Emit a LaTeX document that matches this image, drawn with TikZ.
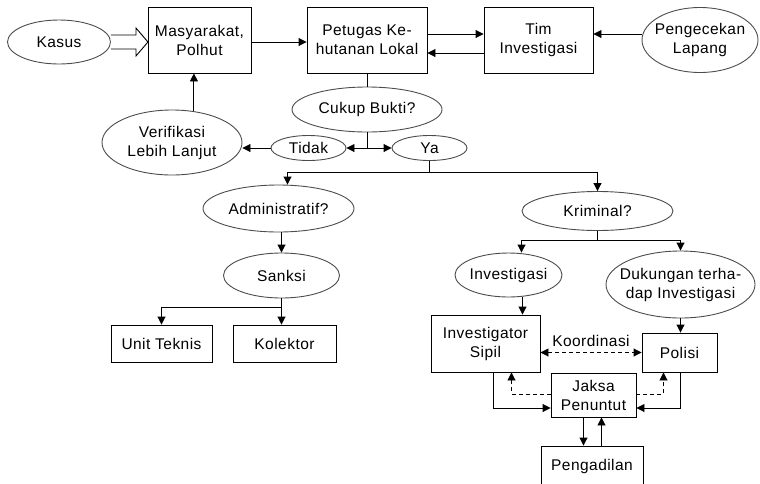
\documentclass[tikz,border=0pt]{standalone}
\usepackage{fontspec}
\setmainfont[LetterSpace=3]{Liberation Sans}
\usetikzlibrary{arrows.meta,positioning,calc,shapes.geometric}
\newcommand{\flowfont}{\fontsize{15.5}{19}\selectfont}
\tikzset{
  box/.style={draw, line width=0.9pt, align=center, inner sep=0pt, font=\flowfont},
  oval/.style={ellipse, draw=black!70, line width=0.9pt, align=center,
               inner xsep=-25pt, inner ysep=0pt, font=\flowfont},
  link/.style={line width=0.9pt},
  arrow/.style={link, -{Triangle[length=8pt,width=8pt]}},
  dasharrow/.style={arrow, dash pattern=on 4pt off 3pt},
  twoway/.style={{Triangle[length=8pt,width=8pt]}-{Triangle[length=8pt,width=8pt]}}
}

\begin{document}
\begin{tikzpicture}[x=1pt, y=-1pt]
\useasboundingbox (0,0) rectangle (760,483);

% top row
\node[oval, minimum width=103pt, minimum height=44pt] (kasus) at (59,42) {Kasus};
\node[box, minimum width=103pt, minimum height=66pt] (masy) at (199.5,40) {Masyarakat,\\Polhut};
\node[box, minimum width=120pt, minimum height=66pt] (petugas) at (367,40) {Petugas Ke-\\hutanan Lokal};
\node[box, minimum width=109pt, minimum height=66pt] (tim) at (538.5,40) {Tim\\Investigasi};
\node[oval, minimum width=116pt, minimum height=65pt] (cek) at (700,40) {Pengecekan\\Lapang};

% decision
\node[oval, minimum width=150pt, minimum height=45pt] (cukup) at (367,109.5) {Cukup Bukti?};
\node[oval, minimum width=75pt, minimum height=25pt] (tidak) at (308.5,148) {Tidak};
\node[oval, minimum width=75pt, minimum height=25pt] (ya) at (429.5,148) {Ya};
\node[oval, minimum width=140pt, minimum height=65pt] (verif) at (172,142.5) {Verifikasi\\Lebih Lanjut};

% administrative branch
\node[oval, minimum width=151pt, minimum height=47pt] (admin) at (278.5,208.5) {Administratif?};
\node[oval, minimum width=116pt, minimum height=45pt] (sanksi) at (281.5,275.5) {Sanksi};
\node[box, minimum width=101pt, minimum height=37pt] (unit) at (161.5,343.5) {Unit Teknis};
\node[box, minimum width=103pt, minimum height=37pt] (kolektor) at (284.5,343.5) {Kolektor};

% criminal branch
\node[oval, minimum width=151pt, minimum height=39pt] (krim) at (597.5,211) {Kriminal?};
\node[oval, minimum width=107pt, minimum height=44pt] (invest) at (508.5,275) {Investigasi};
\node[oval, minimum width=149pt, minimum height=67pt] (dukung) at (680.5,284.5) {Dukungan terha-\\dap Investigasi};
\node[box, minimum width=109pt, minimum height=57pt] (sipil) at (485.5,343.5) {Investigator\\Sipil};
\node[box, minimum width=75pt, minimum height=39pt] (polisi) at (679.5,352.5) {Polisi};
\node[box, minimum width=85pt, minimum height=44pt] (jaksa) at (593.5,395) {Jaksa\\Penuntut};
\node[box, minimum width=102pt, minimum height=40pt] (pengadilan) at (592,466) {Pengadilan};

% hollow arrow into the first box
\draw[link, fill=white] (kasus.east) ++(0,-7) -- ++(25,0) -- ++(0,-7) -- ++(12,14)
  -- ++(-12,14) -- ++(0,-7) -- ++(-25,0);

\draw[arrow] ([yshift=-2pt]masy.east) -- ([yshift=-2pt]petugas.west);
\draw[arrow] ([yshift=6pt]petugas.east) -- ([yshift=6pt]tim.west);
\draw[arrow] ([yshift=-13pt]tim.west) -- ([yshift=-13pt]petugas.east);
\draw[arrow] ([yshift=6pt]cek.west) -- ([yshift=6pt]tim.east);

\draw[link] (petugas.south) -- (cukup.north);
\draw[arrow] (cukup.south) |- (tidak.east);
\draw[arrow] (cukup.south) |- (ya.west);
\draw[arrow] (tidak.west) -- (tidak.west -| verif.east);
\draw[arrow] (verif.55) -- (verif.55 |- masy.south);

\coordinate (yasplit) at (429.5,172);
\draw[link] (ya.south) -- (yasplit);
\draw[arrow] (yasplit) -| ([xshift=9pt]admin.north);
\draw[arrow] (yasplit) -| (krim.north);

\draw[arrow] (admin.south -| sanksi.north) -- (sanksi.north);
\coordinate (sanksplit) at (281.5,307);
\draw[link] (sanksi.south) -- (sanksplit);
\draw[arrow] (sanksplit) -| (unit.north);
\draw[arrow] (sanksplit) -- (sanksplit |- kolektor.north);

\coordinate (krimsplit) at (597.5,240);
\draw[link] (krim.south) -- (krimsplit);
\draw[arrow] (krimsplit) -| ([xshift=13pt]invest.north);
\draw[arrow] (krimsplit) -| (dukung.north);
\draw[arrow] ([xshift=14pt]invest.south) -- ([xshift=14pt]invest.south |- sipil.north);
\draw[arrow] (dukung.south) -- (dukung.south |- polisi.north);

% coordination around the prosecutor
\draw[dasharrow, twoway] (polisi.west -| sipil.east)
  -- node[above=2pt, font=\flowfont] {Koordinasi} (polisi.west);
\draw[arrow] ([xshift=8pt]sipil.south) |- ([yshift=-13pt]jaksa.west);
\draw[arrow] ([xshift=1pt]polisi.south) |- ([yshift=-13pt]jaksa.east);
\draw[dasharrow] ([yshift=1pt]jaksa.west) -| ([xshift=26pt]sipil.south);
\draw[dasharrow] ([yshift=1pt]jaksa.east) -| ([xshift=-16pt]polisi.south);
\draw[arrow] ([xshift=-10pt]jaksa.south) -- ([xshift=-10pt]jaksa.south |- pengadilan.north);
\draw[arrow] ([xshift=8pt]jaksa.south |- pengadilan.north) -- ([xshift=8pt]jaksa.south);
\end{tikzpicture}
\end{document}
